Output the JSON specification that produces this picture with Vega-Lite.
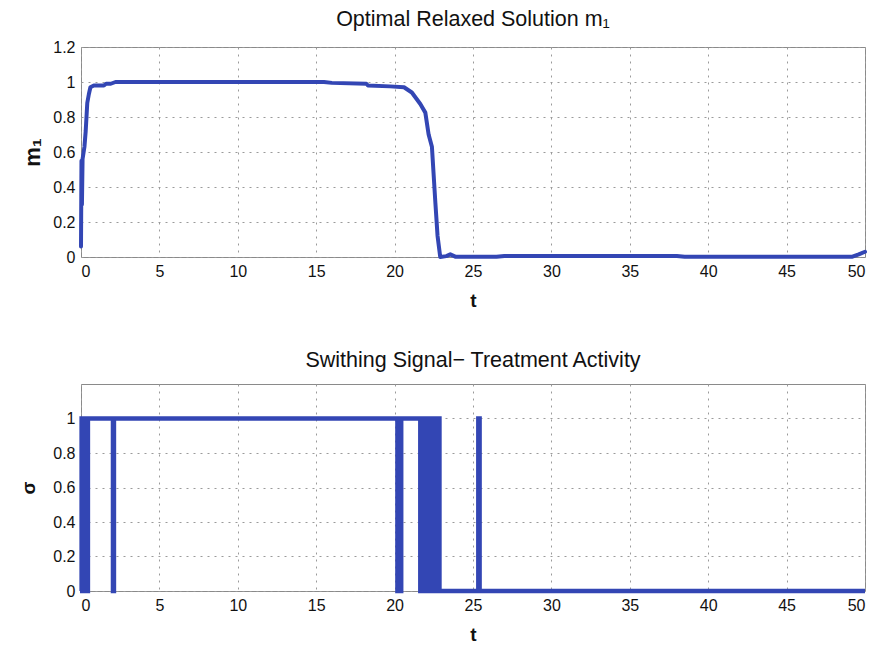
{
  "$schema": "https://vega.github.io/schema/vega-lite/v6.json",
  "background": "white",
  "padding": {"left": 19, "top": 8, "right": 5, "bottom": 5},
  "spacing": 38,
  "config": {
    "font": "Liberation Sans",
    "view": {"stroke": "#8a8a8a", "strokeWidth": 1},
    "axis": {
      "labelFont": "Liberation Sans",
      "labelFontSize": 16,
      "labelColor": "#111111",
      "labelPadding": 6,
      "titleFont": "Liberation Sans",
      "titleFontSize": 19,
      "titleFontWeight": "bold",
      "titleColor": "#111111",
      "grid": true,
      "gridColor": "#9a9a9a",
      "gridDash": [2, 5],
      "gridWidth": 1,
      "domain": false,
      "ticks": false
    },
    "title": {"font": "Liberation Sans", "fontSize": 21.5, "fontWeight": "normal", "color": "#111111"}
  },
  "vconcat": [
    {
      "title": {"text": "Optimal Relaxed Solution m\u2081", "offset": 9},
      "width": 784,
      "height": 210,
      "data": {"values": [
        {"t": 0, "m": 0.06},
        {"t": 0.03, "m": 0.55},
        {"t": 0.06, "m": 0.3},
        {"t": 0.1, "m": 0.56},
        {"t": 0.22, "m": 0.63},
        {"t": 0.3, "m": 0.72},
        {"t": 0.4, "m": 0.88},
        {"t": 0.5, "m": 0.93},
        {"t": 0.6, "m": 0.97},
        {"t": 0.82, "m": 0.98},
        {"t": 1.0, "m": 0.98},
        {"t": 1.46, "m": 0.98},
        {"t": 1.6, "m": 0.99},
        {"t": 1.9, "m": 0.99},
        {"t": 2.2, "m": 1.0},
        {"t": 15.5, "m": 1.0},
        {"t": 16.0, "m": 0.995},
        {"t": 18.2, "m": 0.99},
        {"t": 18.3, "m": 0.98},
        {"t": 19.7, "m": 0.975},
        {"t": 20.6, "m": 0.97},
        {"t": 21.1, "m": 0.94},
        {"t": 21.64, "m": 0.874},
        {"t": 21.96, "m": 0.825},
        {"t": 22.17, "m": 0.7},
        {"t": 22.38, "m": 0.63},
        {"t": 22.6, "m": 0.31},
        {"t": 22.74, "m": 0.12},
        {"t": 22.91, "m": 0.0},
        {"t": 23.3, "m": 0.005},
        {"t": 23.55, "m": 0.015},
        {"t": 23.87, "m": 0.002},
        {"t": 26.5, "m": 0.002},
        {"t": 27.0, "m": 0.006},
        {"t": 38.0, "m": 0.006},
        {"t": 38.5, "m": 0.002},
        {"t": 49.2, "m": 0.002},
        {"t": 49.6, "m": 0.015},
        {"t": 50, "m": 0.03}
      ]},
      "mark": {"type": "line", "color": "#3346b4", "strokeWidth": 4, "strokeJoin": "round", "strokeCap": "round"},
      "encoding": {
        "x": {"field": "t", "type": "quantitative", "scale": {"domain": [0, 50], "nice": false},
              "axis": {"values": [0,5,10,15,20,25,30,35,40,45,50], "title": "t", "titlePadding": 12}},
        "y": {"field": "m", "type": "quantitative", "scale": {"domain": [0, 1.2], "nice": false, "zero": false},
              "axis": {"values": [0,0.2,0.4,0.6,0.8,1,1.2], "format": "~g", "title": "m\u2081", "titleFontSize": 22, "titlePadding": 8}}
      }
    },
    {
      "title": {"text": "Swithing Signal\u2212 Treatment Activity", "offset": 13},
      "width": 784,
      "height": 207,
      "data": {"values": [
        {"t": 0, "s": 0},
        {"t": 0.04, "s": 1},
        {"t": 0.08, "s": 0},
        {"t": 0.12, "s": 1},
        {"t": 0.16, "s": 0},
        {"t": 0.2, "s": 1},
        {"t": 0.24, "s": 0},
        {"t": 0.28, "s": 1},
        {"t": 0.32, "s": 0},
        {"t": 0.36, "s": 1},
        {"t": 0.4, "s": 0},
        {"t": 0.44, "s": 1},
        {"t": 2.04, "s": 0},
        {"t": 2.1, "s": 1},
        {"t": 20.18, "s": 0},
        {"t": 20.42, "s": 1},
        {"t": 21.64, "s": 0},
        {"t": 21.7, "s": 1},
        {"t": 21.76, "s": 0},
        {"t": 21.82, "s": 1},
        {"t": 21.88, "s": 0},
        {"t": 21.94, "s": 1},
        {"t": 22.0, "s": 0},
        {"t": 22.06, "s": 1},
        {"t": 22.12, "s": 0},
        {"t": 22.18, "s": 1},
        {"t": 22.24, "s": 0},
        {"t": 22.3, "s": 1},
        {"t": 22.36, "s": 0},
        {"t": 22.42, "s": 1},
        {"t": 22.48, "s": 0},
        {"t": 22.54, "s": 1},
        {"t": 22.6, "s": 0},
        {"t": 22.66, "s": 1},
        {"t": 22.72, "s": 0},
        {"t": 22.78, "s": 1},
        {"t": 22.86, "s": 0},
        {"t": 25.34, "s": 1},
        {"t": 25.42, "s": 0},
        {"t": 50, "s": 0}
      ]},
      "mark": {"type": "line", "color": "#3346b4", "strokeWidth": 4.5, "interpolate": "step-after"},
      "encoding": {
        "x": {"field": "t", "type": "quantitative", "scale": {"domain": [0, 50], "nice": false},
              "axis": {"values": [0,5,10,15,20,25,30,35,40,45,50], "title": "t", "titlePadding": 12}},
        "y": {"field": "s", "type": "quantitative", "scale": {"domain": [0, 1.2], "nice": false, "zero": false},
              "axis": {"values": [0,0.2,0.4,0.6,0.8,1], "format": "~g", "title": "\u03c3", "titlePadding": 14}}
      }
    }
  ]
}
